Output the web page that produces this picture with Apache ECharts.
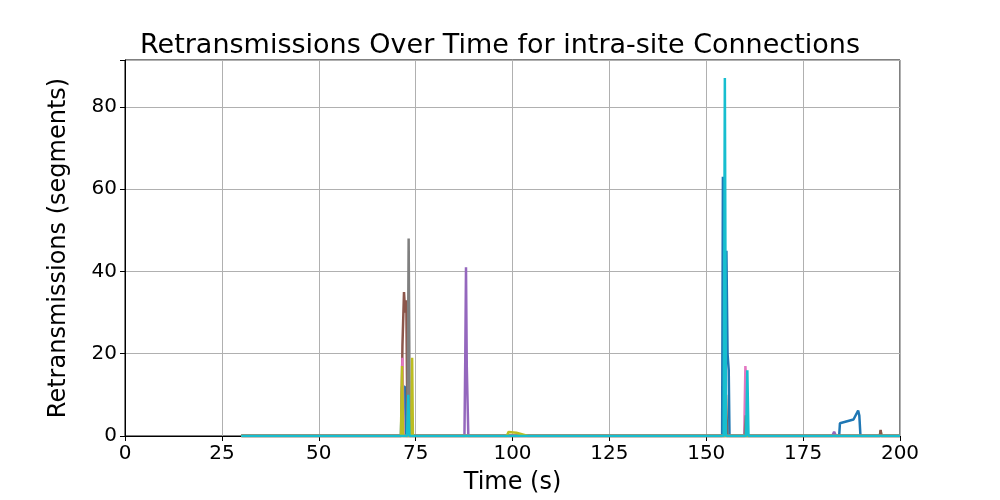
<!DOCTYPE html>
<html><head><meta charset="utf-8">
<script src="https://cdn.jsdelivr.net/npm/echarts@6/dist/echarts.min.js"></script>
<style>body{margin:0}#c{width:1000px;height:500px}</style></head>
<body><div id="c"></div>
<script>
const names = ['c0','c1','c2','c3','c4','c5','c6','c7','c8','c9'];
const colors = ['#1f77b4','#ff7f0e','#2ca02c','#d62728','#9467bd','#8c564b','#e377c2','#7f7f7f','#bcbd22','#17becf'];
const t0 = [30,71.2,71.5,72.2,72.5,100,154.1,154.3,154.7,155.0,155.2,155.5,155.8,156,184.3,184.5,188,189.2,189.5,189.8,200];
const v0 = [0,0,12,12,0,0,0,63,63,30,45,20,16,0,0,3.1,4,6.2,5,0,0];
const t1 = [30,100,150,200]; const v1 = [0,0,0,0];
const t2 = [30,150,194.8,195,195.2,200]; const v2 = [0,0,0,1.3,0,0];
const t3 = [30,120,200]; const v3 = [0,0,0];
const t4 = [30,87.6,87.8,88.0,88.2,88.4,88.6,182.5,183,183.5,200]; const v4 = [0,0,18,41,17,17,0,0,1,0,0];
const t5 = [30,71.3,71.6,72.0,72.3,72.6,72.9,154.8,155.1,155.4,194.8,195,195.2,200]; const v5 = [0,0,22,35,30,33,0,0,10,0,0,1.5,0,0];
const t6 = [30,71.3,71.6,71.9,159.8,160.1,160.4,160.7,200]; const v6 = [0,0,19,0,0,17,12,0,0];
const t7 = [30,72.9,73.2,73.5,159.9,160.2,160.5,200]; const v7 = [0,0,48,0,0,5,0,0];
const t8 = [30,71.2,71.5,71.8,73.9,74.1,74.3,98.5,99,101,104,200]; const v8 = [0,0,17,0,0,19,0,0,1,0.8,0,0];
const t9 = [30,72.8,73.1,73.4,154.5,154.8,155.1,160.3,160.6,160.9,200]; const v9 = [0,0,10,0,0,87,0,0,16,0,0];
const T = [t0,t1,t2,t3,t4,t5,t6,t7,t8,t9];
const V = [v0,v1,v2,v3,v4,v5,v6,v7,v8,v9];
const xTicks = [0,25,50,75,100,125,150,175,200];
const yTicks = [0,20,40,60,80];
const ch = echarts.init(document.getElementById('c'));
const f = 'DejaVu Sans';
ch.setOption({
  animation:false,
  title:{text:'Retransmissions Over Time for intra-site Connections',left:'center',top:27,textStyle:{fontFamily:f,fontSize:27,fontWeight:'normal',color:'#000'}},
  grid:{left:125,right:100,top:60,bottom:55,show:true,borderColor:'#000',borderWidth:1},
  xAxis:{type:'value',min:0,max:200,interval:25,name:'Time (s)',nameLocation:'middle',nameGap:35,
    nameTextStyle:{fontFamily:f,fontSize:24,color:'#000'},
    axisLine:{lineStyle:{color:'#000'}},axisTick:{show:true,length:5,lineStyle:{color:'#000'}},
    axisLabel:{fontFamily:f,fontSize:20,color:'#000',margin:8,formatter:v=>xTicks.includes(v)?String(v):''},
    splitLine:{show:true,lineStyle:{color:'#b0b0b0',width:1}}},
  yAxis:{type:'value',min:0,max:91.4,interval:20,name:'Retransmissions (segments)',nameLocation:'middle',nameGap:54,
    nameTextStyle:{fontFamily:f,fontSize:24,color:'#000'},
    axisLine:{show:true,lineStyle:{color:'#000'}},axisTick:{show:true,length:5,lineStyle:{color:'#000'}},
    axisLabel:{fontFamily:f,fontSize:20,color:'#000',margin:8,formatter:v=>yTicks.includes(v)?String(v):''},
    splitLine:{show:true,lineStyle:{color:'#b0b0b0',width:1}}},
  series:names.map((n,i)=>({name:n,type:'line',showSymbol:false,symbol:'none',
    lineStyle:{width:2.5,color:colors[i]},itemStyle:{color:colors[i]},
    data:T[i].map((t,j)=>[t,V[i][j]])}))
});
</script></body></html>
